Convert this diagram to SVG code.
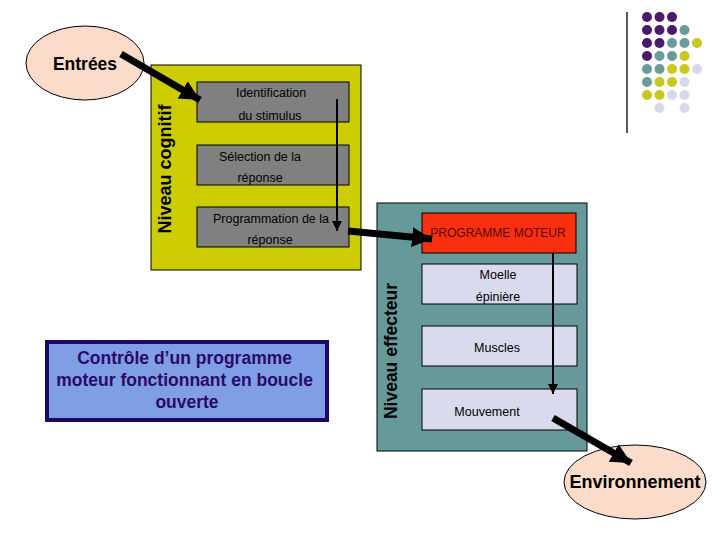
<svg xmlns="http://www.w3.org/2000/svg" width="720" height="540" viewBox="0 0 720 540">
<defs>
<marker id="bigArrow" markerUnits="userSpaceOnUse" markerWidth="22" markerHeight="22" refX="20" refY="11" orient="auto" viewBox="0 0 22 22">
<path d="M0,1 L20,11 L0,21 Z" fill="#000"/>
</marker>
<marker id="smallArrow" markerUnits="userSpaceOnUse" markerWidth="10" markerHeight="12" refX="10" refY="5" orient="auto" viewBox="0 0 10 10">
<path d="M0,0 L10,5 L0,10 Z" fill="#000"/>
</marker>
</defs>
<style>
text{font-family:"Liberation Sans",Arial,sans-serif;fill:#000}
.step{font-size:12.5px}
.big{font-size:17.5px;font-weight:bold}
.gray{fill:#808080;stroke:#000;stroke-width:1}
.light{fill:#dadaee;stroke:#000;stroke-width:1}
.ell{fill:#fbdccb;stroke:#000;stroke-width:1}
.thick{stroke:#000;stroke-width:7;fill:none;marker-end:url(#bigArrow)}
.thin{stroke:#000;stroke-width:2;fill:none;marker-end:url(#smallArrow)}
.dp{fill:#4a1a6c}.dt{fill:#6a9a9a}.dy{fill:#c8c81e}.dl{fill:#d8d8ec}
</style>
<rect width="720" height="540" fill="#fff"/>

<g id="decor">
<line x1="627" y1="12" x2="627" y2="133" stroke="#000" stroke-width="1.3"/>
<g>
<circle class="dp" cx="647" cy="17" r="5"/><circle class="dp" cx="659.5" cy="17" r="5"/><circle class="dp" cx="672" cy="17" r="5"/>
<circle class="dp" cx="647" cy="30" r="5"/><circle class="dp" cx="659.5" cy="30" r="5"/><circle class="dp" cx="672" cy="30" r="5"/><circle class="dt" cx="684.5" cy="30" r="5"/>
<circle class="dp" cx="647" cy="43" r="5"/><circle class="dp" cx="659.5" cy="43" r="5"/><circle class="dt" cx="672" cy="43" r="5"/><circle class="dt" cx="684.5" cy="43" r="5"/><circle class="dy" cx="697" cy="43" r="5"/>
<circle class="dp" cx="647" cy="56" r="5"/><circle class="dt" cx="659.5" cy="56" r="5"/><circle class="dt" cx="672" cy="56" r="5"/><circle class="dy" cx="684.5" cy="56" r="5"/>
<circle class="dt" cx="647" cy="69" r="5"/><circle class="dt" cx="659.5" cy="69" r="5"/><circle class="dy" cx="672" cy="69" r="5"/><circle class="dy" cx="684.5" cy="69" r="5"/><circle class="dl" cx="697" cy="69" r="5"/>
<circle class="dt" cx="647" cy="82" r="5"/><circle class="dy" cx="659.5" cy="82" r="5"/><circle class="dy" cx="672" cy="82" r="5"/><circle class="dl" cx="684.5" cy="82" r="5"/>
<circle class="dy" cx="647" cy="95" r="5"/><circle class="dy" cx="659.5" cy="95" r="5"/><circle class="dl" cx="672" cy="95" r="5"/><circle class="dl" cx="684.5" cy="95" r="5"/>
<circle class="dl" cx="659.5" cy="108" r="5"/><circle class="dl" cx="684.5" cy="108" r="5"/>
</g>
</g>

<g id="niveau-cognitif">
<rect x="151" y="65" width="210" height="205" fill="#cccc00" stroke="#000" stroke-width="1"/>
<text class="big" transform="translate(171,169) rotate(-90)" text-anchor="middle" style="font-size:18px">Niveau cognitif</text>
</g>

<g id="identification">
<rect class="gray" x="197" y="82" width="152" height="40"/>
<text class="step" x="271" y="97" text-anchor="middle">Identification</text>
<text class="step" x="270" y="120" text-anchor="middle">du stimulus</text>
</g>
<g id="selection">
<rect class="gray" x="197" y="145" width="152" height="40"/>
<text class="step" x="260" y="161" text-anchor="middle">Sélection de la</text>
<text class="step" x="260" y="182" text-anchor="middle">réponse</text>
</g>
<g id="programmation">
<rect class="gray" x="197" y="207" width="152" height="40"/>
<text class="step" x="271" y="223" text-anchor="middle">Programmation de la</text>
<text class="step" x="270" y="244" text-anchor="middle">réponse</text>
</g>

<g id="niveau-effecteur">
<rect x="377" y="203" width="210" height="248" fill="#669999" stroke="#000" stroke-width="1"/>
<text class="big" transform="translate(397,351) rotate(-90)" text-anchor="middle">Niveau effecteur</text>
</g>

<g id="programme-moteur">
<rect x="422" y="213" width="154" height="40" fill="#f83010" stroke="#000" stroke-width="1"/>
<text class="step" x="498" y="237" text-anchor="middle" style="fill:#5a0a00;font-size:12px">PROGRAMME MOTEUR</text>
</g>
<g id="moelle">
<rect class="light" x="422" y="264" width="155" height="40"/>
<text class="step" x="498" y="279" text-anchor="middle">Moelle</text>
<text class="step" x="498" y="301" text-anchor="middle">épinière</text>
</g>
<g id="muscles">
<rect class="light" x="422" y="326" width="155" height="40"/>
<text class="step" x="497" y="352" text-anchor="middle">Muscles</text>
</g>
<g id="mouvement">
<rect class="light" x="422" y="389" width="155" height="41"/>
<text class="step" x="487" y="416" text-anchor="middle">Mouvement</text>
</g>

<g id="entrees">
<ellipse class="ell" cx="85" cy="63" rx="59" ry="37"/>
<text class="big" x="85" y="70" text-anchor="middle">Entrées</text>
</g>

<g id="environnement">
<ellipse class="ell" cx="635" cy="482" rx="71" ry="37"/>
<text class="big" x="635" y="488" text-anchor="middle" style="font-size:18px">Environnement</text>
</g>

<g id="controle">
<rect x="47" y="342" width="280" height="78" fill="#7f9ee6" stroke="#1a0a66" stroke-width="4"/>
<text class="big" text-anchor="middle" style="fill:#2a0a6a">
<tspan x="187" y="364">Contrôle d’un programme</tspan>
<tspan x="187" y="386">moteur fonctionnant en boucle</tspan>
<tspan x="187" y="408">ouverte</tspan>
</text>
</g>

<g id="connectors">
<line class="thick" x1="121" y1="54" x2="200" y2="100"/>
<line class="thin" x1="337" y1="99" x2="337" y2="231"/>
<line class="thick" x1="348" y1="231" x2="432" y2="239"/>
<line class="thin" x1="553" y1="253" x2="553" y2="394"/>
<line class="thick" x1="553" y1="418" x2="631" y2="463"/>
</g>
</svg>
